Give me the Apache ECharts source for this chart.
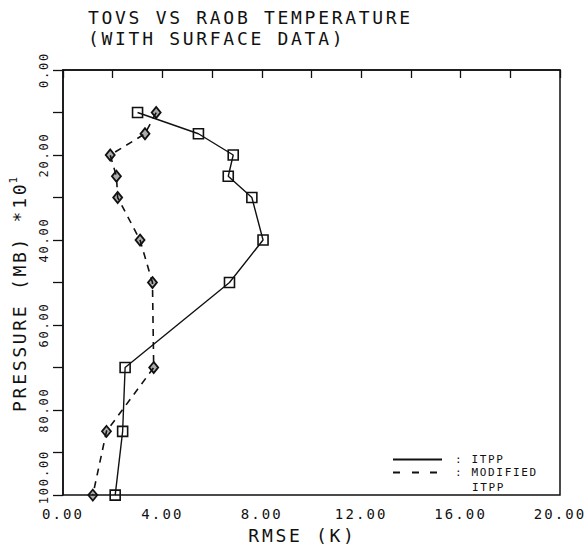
<!DOCTYPE html>
<html><head><meta charset="utf-8">
<script src="https://cdn.jsdelivr.net/npm/echarts@6/dist/echarts.min.js"></script>
<style>
html,body{margin:0;padding:0;background:#fff}
#c{width:588px;height:549px}
#c svg text{letter-spacing:0.15em}
</style></head><body><div id="c"></div>
<script>
// Pressure levels (MB x 10^1)
const pressureLevels = [10, 15, 20, 25, 30, 40, 50, 70, 85, 100];
// RMSE (K), ITPP retrieval
const itppRmse = [3.0, 5.45, 6.85, 6.65, 7.6, 8.05, 6.7, 2.5, 2.4, 2.1];
// RMSE (K), modified ITPP retrieval
const modifiedRmse = [3.75, 3.3, 1.9, 2.15, 2.2, 3.1, 3.6, 3.65, 1.75, 1.2];
const seriesNames = ['ITPP', 'MODIFIED ITPP'];
const titleLines = ['TOVS VS RAOB TEMPERATURE', '(WITH SURFACE DATA)'];

const FONT = '"DejaVu Sans Mono", monospace';
const INK = '#111';

const chart = echarts.init(document.getElementById('c'), null, {renderer: 'svg'});
chart.setOption({
  backgroundColor: '#fff',
  animation: false,
  title: {
    text: titleLines.join('\n'),
    left: 88, top: 7, padding: 0,
    textStyle: {fontFamily: FONT, fontSize: 18, fontWeight: 'normal', color: INK, lineHeight: 21}
  },
  grid: {left: 63, top: 70, right: 28, bottom: 48, show: true, borderColor: INK, borderWidth: 1.5, backgroundColor: 'transparent'},
  legend: {
    orient: 'vertical', left: 393, top: 453, padding: 0, itemGap: 0,
    itemWidth: 49, itemHeight: 2,
    textStyle: {fontFamily: FONT, fontSize: 11, color: INK, lineHeight: 13,
      rich: {p: {padding: [0, 0, 0, 8], fontFamily: FONT, fontSize: 11, color: INK}}},
    formatter: n => '{p|: ' + (n === 'ITPP' ? 'ITPP' : 'MODIFIED') + '}',
    data: [
      {name: seriesNames[0], icon: 'path://M0,0 L49,0 L49,2 L0,2 Z', itemStyle: {color: INK, borderWidth: 0}},
      {name: seriesNames[1], icon: 'path://M0,0h7v2h-7z M19,0h7v2h-7z M37,0h7v2h-7z M49,0h0.01v2h-0.01z', itemStyle: {color: INK, borderWidth: 0}}
    ]
  },
  graphic: [{type: 'text', left: 472, top: 482, style: {text: 'ITPP', font: '11px ' + FONT, fill: INK}}],
  xAxis: {
    type: 'value', min: 0, max: 20, interval: 2,
    name: 'RMSE (K)', nameLocation: 'middle', nameGap: 30,
    nameTextStyle: {fontFamily: FONT, fontSize: 18, color: INK, padding: [0, 18, 0, 0]},
    axisLine: {show: true, lineStyle: {color: INK, width: 1.5}},
    axisTick: {show: true, length: 8, lineStyle: {color: INK, width: 1.3}},
    axisLabel: {margin: 12, fontFamily: FONT, fontSize: 14, color: INK,
      formatter: v => (Math.round(v) % 4 === 0 ? v.toFixed(2) : '')},
    splitLine: {show: false}
  },
  yAxis: {
    type: 'value', min: 0, max: 100, interval: 10, inverse: true,
    name: 'PRESSURE (MB) *10{s|1}', nameLocation: 'middle', nameGap: 33, nameRotate: 90,
    nameTextStyle: {fontFamily: FONT, fontSize: 18, color: INK, lineHeight: 22, padding: [0, 0, 0, 0],
      rich: {s: {fontFamily: FONT, fontSize: 11, color: INK, verticalAlign: 'top', padding: [0, 0, 0, 22]}}},
    axisLine: {show: true, lineStyle: {color: INK, width: 1.5}},
    axisTick: {show: true, length: 10, lineStyle: {color: INK, width: 1.3}},
    axisLabel: {rotate: 90, margin: 13, align: 'center', verticalAlign: 'bottom',
      fontFamily: FONT, fontSize: 12, color: INK,
      rich: {b: {fontFamily: FONT, fontSize: 12, color: INK, padding: [0, 0, 0, 36]}},
      formatter: v => {
        const r = Math.round(v);
        if (r % 20 !== 0) return '';
        return r === 100 ? '{b|' + v.toFixed(2) + '}' : v.toFixed(2);
      }},
    splitLine: {show: false}
  },
  series: [
    {
      name: seriesNames[0], type: 'line',
      data: itppRmse.map((v, i) => [v, pressureLevels[i]]),
      symbol: 'rect', symbolSize: 10,
      itemStyle: {color: 'transparent', borderColor: INK, borderWidth: 1.6},
      lineStyle: {color: INK, width: 1.4, type: 'solid'},
      z: 3
    },
    {
      name: seriesNames[1], type: 'line',
      data: modifiedRmse.map((v, i) => [v, pressureLevels[i]]),
      symbol: 'diamond', symbolSize: [9, 11],
      itemStyle: {color: 'rgba(17,17,17,0.35)', borderColor: INK, borderWidth: 1.8},
      lineStyle: {color: INK, width: 1.6, type: [7, 6]},
      z: 3
    }
  ]
});
</script></body></html>
